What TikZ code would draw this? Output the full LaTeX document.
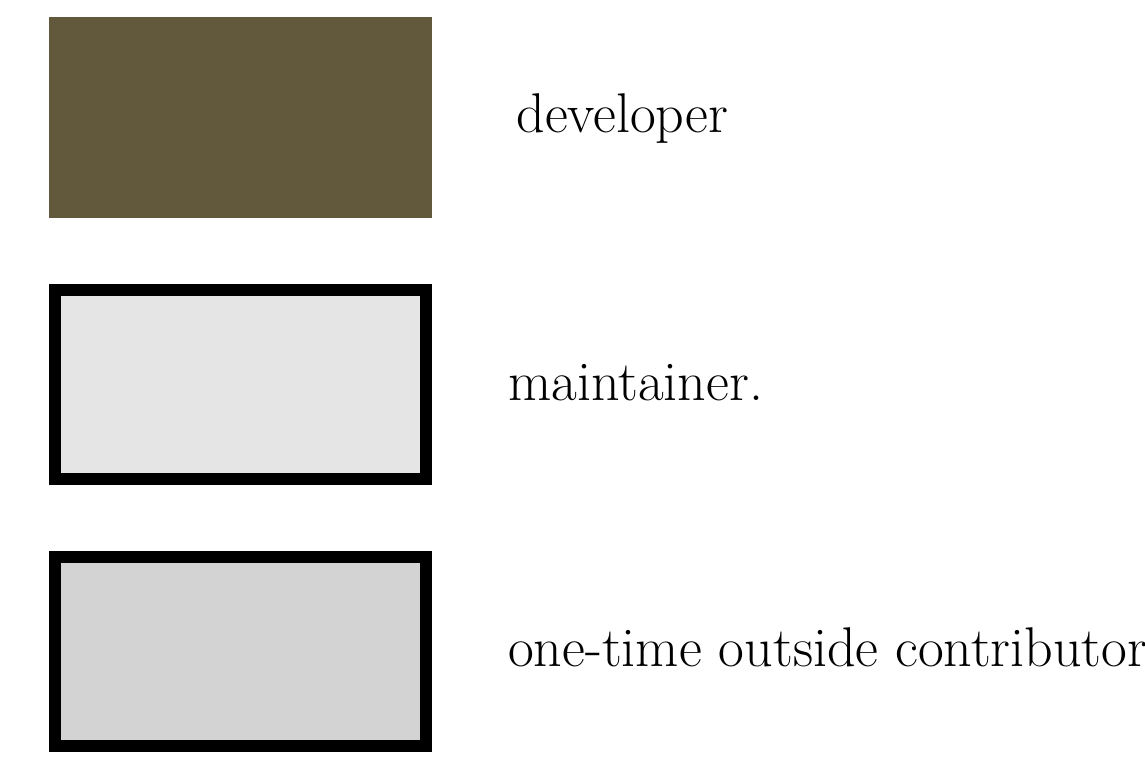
\documentclass[tikz,border=0pt]{standalone}
\usepackage{fontspec}
\usetikzlibrary{positioning}

\definecolor{devbrown}{RGB}{98,89,61}
\definecolor{lightbox}{RGB}{229,229,229}
\definecolor{midbox}{RGB}{211,211,211}

\tikzset{
  swatch/.style={minimum width=383pt, minimum height=201pt, inner sep=0pt},
  framed/.style={draw=black, line width=12pt, minimum width=371pt, minimum height=189pt, inner sep=0pt},
  legendtext/.style={font=\fontsize{56}{64}\selectfont, inner sep=0pt, anchor=base west}
}

\begin{document}
\begin{tikzpicture}[x=1pt, y=-1pt]

\useasboundingbox (0,0) rectangle (1145,764);

% swatches
\node[swatch, fill=devbrown] (dev) at (240.5,117.5) {};
\node[framed, fill=lightbox] (main) at (240.5,384.5) {};
\node[framed, fill=midbox] (contrib) at (240.5,651.5) {};

% labels
\node[legendtext] (devlabel) at ([xshift=84pt, yshift=-15pt]dev.east) {developer};
\node[legendtext] (mainlabel) at ([xshift=76pt, yshift=-16pt]main.east) {maintainer.};
\node[legendtext] (contriblabel) at ([xshift=76pt, yshift=-15pt]contrib.east) {one-time outside contributor};
\end{tikzpicture}
\end{document}
